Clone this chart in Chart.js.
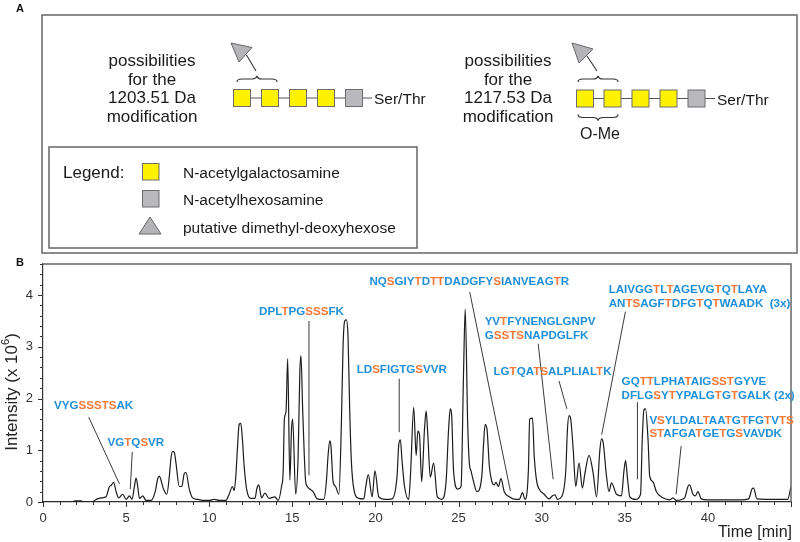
<!DOCTYPE html>
<html><head><meta charset="utf-8">
<script src="https://cdn.jsdelivr.net/npm/chart.js@4.4.1/dist/chart.umd.min.js"></script>
<style>
html,body{margin:0;padding:0;background:#fff;overflow:hidden;}
#wrap{position:relative;width:800px;height:542px;overflow:hidden;font-family:"Liberation Sans",Arial,Helvetica,sans-serif;color:#1a1a1a;}
#c{position:absolute;left:0;top:0;}
#panelA{position:absolute;left:0;top:0;}
.pep{position:absolute;font-weight:bold;font-size:11.6px;line-height:13.5px;white-space:pre;color:#1e8fd8;}
.pep b{color:#f47a3a;font-weight:bold;}
#ytitle{position:absolute;left:12px;top:392px;transform:translate(-50%,-50%) rotate(-90deg);font-size:17px;line-height:20px;white-space:nowrap;color:#222;}
#ytitle sup{font-size:11px;line-height:0;position:relative;top:-1px;}
#xtitle{position:absolute;right:8px;top:523px;font-size:16px;line-height:18px;white-space:nowrap;color:#222;}
</style></head>
<body><div id="wrap">
<canvas id="c" width="800" height="542"></canvas>
<svg id="panelA" width="800" height="542" xmlns="http://www.w3.org/2000/svg" style="font-family:'Liberation Sans',Arial,Helvetica,sans-serif">
  <text x="20" y="11.5" font-size="11" font-weight="bold" text-anchor="middle" fill="#111">A</text>
  <rect x="42" y="15" width="755" height="238" fill="none" stroke="#666" stroke-width="1.5"/>
  <g font-size="17" fill="#1a1a1a" text-anchor="middle">
    <text x="152" y="66">possibilities</text>
    <text x="152" y="84.5">for the</text>
    <text x="152" y="103">1203.51 Da</text>
    <text x="152" y="122">modification</text>
    <text x="508" y="66">possibilities</text>
    <text x="508" y="84.5">for the</text>
    <text x="508" y="103">1217.53 Da</text>
    <text x="508" y="122">modification</text>
  </g>
  <!-- left glycan -->
  <line x1="240" y1="98" x2="372" y2="98" stroke="#555" stroke-width="1.2"/>
  <g stroke="#6d6d6d" stroke-width="1">
    <rect x="233.5" y="89.5" width="17" height="17" fill="#fff200"/>
    <rect x="261.5" y="89.5" width="17" height="17" fill="#fff200"/>
    <rect x="289.5" y="89.5" width="17" height="17" fill="#fff200"/>
    <rect x="317.5" y="89.5" width="17" height="17" fill="#fff200"/>
    <rect x="345.5" y="89.5" width="17" height="17" fill="#b9b9bd"/>
  </g>
  <text x="374" y="104" font-size="15.5" fill="#1a1a1a">Ser/Thr</text>
  <polygon points="231,43 252,47.5 239,62" fill="#b5b5b9" stroke="#666" stroke-width="1"/>
  <line x1="246.5" y1="55" x2="256" y2="71" stroke="#333" stroke-width="1.1"/>
  <path d="M237,82 C237,79.5 238.5,79 242,79 L252,79 C255,79 256.5,78 257,76 C257.5,78 259,79 262,79 L272,79 C275.5,79 277,79.5 277,82" fill="none" stroke="#333" stroke-width="1.2"/>
  <!-- right glycan -->
  <line x1="580" y1="98.5" x2="715" y2="98.5" stroke="#555" stroke-width="1.2"/>
  <g stroke="#6d6d6d" stroke-width="1">
    <rect x="576.5" y="90" width="17" height="17" fill="#fff200"/>
    <rect x="604" y="90" width="17" height="17" fill="#fff200"/>
    <rect x="632" y="90" width="17" height="17" fill="#fff200"/>
    <rect x="660" y="90" width="17" height="17" fill="#fff200"/>
    <rect x="688" y="90" width="17" height="17" fill="#b9b9bd"/>
  </g>
  <text x="717" y="104.5" font-size="15.5" fill="#1a1a1a">Ser/Thr</text>
  <polygon points="572,43 593,49 579,63" fill="#b5b5b9" stroke="#666" stroke-width="1"/>
  <line x1="587" y1="56" x2="597" y2="71" stroke="#333" stroke-width="1.1"/>
  <path d="M578,82 C578,79.5 579.5,79 583,79 L593,79 C596,79 597.5,78 598,76 C598.5,78 600,79 603,79 L613,79 C616.5,79 618,79.5 618,82" fill="none" stroke="#333" stroke-width="1.2"/>
  <path d="M578,114.5 C578,117 579.5,117.5 583,117.5 L593,117.5 C596,117.5 597.5,118.5 598,120.5 C598.5,118.5 600,117.5 603,117.5 L613,117.5 C616.5,117.5 618,117 618,114.5" fill="none" stroke="#333" stroke-width="1.2"/>
  <text x="600" y="139" font-size="16" text-anchor="middle" fill="#1a1a1a">O-Me</text>
  <!-- legend -->
  <rect x="49" y="147" width="368" height="101" fill="none" stroke="#666" stroke-width="1.5"/>
  <text x="63" y="178" font-size="17" fill="#1a1a1a">Legend:</text>
  <rect x="142.5" y="163.5" width="16.5" height="16.5" fill="#fff200" stroke="#6d6d6d" stroke-width="1"/>
  <rect x="142.5" y="190.5" width="16.5" height="16.5" fill="#b9b9bd" stroke="#6d6d6d" stroke-width="1"/>
  <polygon points="139,234 161,234 150,217" fill="#b5b5b9" stroke="#666" stroke-width="1"/>
  <g font-size="15.5" fill="#1a1a1a">
    <text x="183" y="177.5">N-acetylgalactosamine</text>
    <text x="183" y="204.5">N-acetylhexosamine</text>
    <text x="183" y="232.5">putative dimethyl-deoxyhexose</text>
  </g>
  <text x="20" y="265.5" font-size="11" font-weight="bold" text-anchor="middle" fill="#111">B</text>
</svg>
<div id="ytitle">Intensity (x 10<sup>6</sup>)</div>
<div id="xtitle">Time [min]</div>
</div>
<script>
// ---- data: retention time [min] and intensity [x 10^6] ----
const times = [
  0,1.0,1.8,1.9,2.3,2.4,3.0,3.2,3.5,3.8,
  3.9,4.0,4.1,4.25,4.4,4.55,4.8,5.0,5.2,5.35,
  5.5,5.6,5.7,5.8,6.0,6.2,6.5,6.75,6.9,7.0,
  7.1,7.25,7.45,7.6,7.7,7.8,7.9,8.0,8.2,8.35,
  8.5,8.6,8.8,9.0,9.3,9.7,10.0,10.3,10.6,11.0,
  11.2,11.4,11.5,11.6,11.7,11.8,11.9,12.0,12.1,12.25,
  12.5,12.75,12.88,12.98,13.15,13.35,13.6,13.95,14.15,14.35,
  14.45,14.52,14.62,14.72,14.85,14.95,15.02,15.2,15.35,15.45,
  15.52,15.62,15.72,15.8,15.9,16.05,16.25,16.5,16.9,17.05,
  17.15,17.25,17.32,17.45,17.6,17.8,17.95,18.05,18.15,18.25,
  18.35,18.45,18.55,18.7,19.0,19.3,19.42,19.57,19.8,19.97,
  20.2,20.6,21.0,21.3,21.4,21.5,21.6,21.75,22.0,22.12,
  22.3,22.45,22.55,22.65,22.78,22.95,23.05,23.15,23.3,23.5,
  23.72,24.0,24.25,24.4,24.5,24.58,24.7,24.95,25.15,25.3,
  25.4,25.55,25.65,25.75,25.9,26.1,26.4,26.5,26.6,26.72,
  26.85,27.0,27.15,27.25,27.4,27.55,27.75,28.05,28.4,28.65,
  28.85,29.0,29.2,29.28,29.45,29.55,29.7,29.85,30.15,30.45,
  30.65,30.8,30.95,31.2,31.45,31.55,31.65,31.75,31.9,32.05,
  32.25,32.45,32.6,32.85,33.1,33.3,33.5,33.6,33.7,33.9,
  34.05,34.2,34.5,34.8,34.95,35.05,35.15,35.3,35.65,35.95,
  36.05,36.15,36.25,36.4,36.5,36.7,36.9,37.3,37.7,37.9,
  38.1,38.6,38.8,38.9,39.1,39.25,39.4,39.6,40.0,41.0,
  42.0,42.45,42.65,42.75,42.95,44.0,44.8,45.0];
const intensity = [
  0,0,0,0.02,0.02,0,0.01,0.05,0.08,0.1,
  0.2,0.3,0.32,0.38,0.2,0.08,0.15,0.05,0.12,0.05,
  0.3,0.46,0.3,0.07,0.12,0.03,0.03,0.2,0.45,0.5,
  0.42,0.25,0.15,0.5,0.85,0.98,0.96,0.75,0.3,0.3,
  0.55,0.57,0.25,0.08,0.05,0.03,0.03,0.05,0.03,0.03,
  0.15,0.3,0.22,0.5,1.05,1.5,1.52,1.2,0.7,0.25,
  0.07,0.07,0.28,0.33,0.08,0.17,0.07,0.1,0.03,0.3,
  0.6,1.6,1.75,2.77,0.42,1.4,1.6,0.15,0.9,2.5,
  2.83,1.8,0.9,0.4,0.3,0.25,0.2,0.06,0.05,0.4,
  0.9,1.18,1.1,0.4,0.3,0.15,1.5,3.0,3.5,3.52,
  3.2,1.8,0.8,0.25,0.07,0.06,0.3,0.53,0.1,0.6,
  0.1,0.05,0.06,0.5,1.1,1.2,0.8,0.3,0.05,0.6,
  1.83,0.9,1.37,1.3,0.39,1.4,1.76,1.3,0.48,0.75,
  0.1,0.05,0.4,1.4,1.8,1.7,0.6,0.25,0.3,2.5,
  3.73,1.5,0.75,0.6,0.4,0.2,0.5,1.1,1.5,1.38,
  0.7,0.4,0.33,0.38,0.3,0.45,0.2,0.1,0.05,0.05,
  0.18,0.05,0.6,1.6,1.62,0.9,0.4,0.25,0.15,0.06,
  0.12,0.14,0.05,0.1,0.6,1.4,1.67,1.6,1.0,0.3,
  0.75,0.27,0.55,0.9,0.55,0.1,1.0,1.22,1.15,0.5,
  0.2,0.37,0.15,0.12,0.6,0.8,0.5,0.1,0.05,0.15,
  1.2,1.78,1.8,1.2,0.5,0.39,0.2,0.08,0.04,0.08,
  0.03,0.08,0.3,0.33,0.15,0.12,0.2,0.06,0.04,0.04,
  0.04,0.06,0.25,0.27,0.06,0.05,0.05,0.3];
const xTickLabels = ['0','5','10','15','20','25','30','35','40'];
const yTickLabels = ['0','1','2','3','4'];
// peptide annotations ([...] = orange residues); anchor and callout in (time, intensity) units
const peptides = [
  {lines:['VYG[SSSTS]AK'], at:[0.66,1.88], callout:[[2.75,1.64],[4.6,0.35]]},
  {lines:['VG[T]Q[S]VR'], at:[3.88,1.16], callout:[[5.37,0.97],[5.25,0.25]]},
  {lines:['DPL[T]PG[SSS]FK'], at:[13.0,3.69], callout:[[16.0,3.5],[16.0,0.52]]},
  {lines:['LD[S]FIGTG[S]VVR'], at:[18.87,2.57], callout:[[21.43,2.38],[21.43,1.35]]},
  {lines:['NQ[S]GIY[T]D[TT]DADGFY[S]IANVEAG[T]R'], at:[19.64,4.27], callout:[[25.67,4.06],[28.12,0.21]]},
  {lines:['YV[T]FYNENGLGNPV','G[SSTS]NAPDGLFK'], at:[26.57,3.5], callout:[[29.79,3.06],[30.69,0.44]]},
  {lines:['LG[T]QA[TS]ALPLIAL[T]K'], at:[27.1,2.53], callout:[[31.04,2.34],[31.52,1.8]]},
  {lines:['LAIVGG[T]L[T]AGEVG[T]Q[T]LAYA','AN[TS]AGF[T]DFG[T]Q[T]WAADK  (3x)'], at:[34.03,4.12], callout:[[35.04,3.68],[33.61,1.3]]},
  {lines:['GQ[TT]LPHA[T]AIG[SST]GYVE','DFLG[S]Y[T]YPALG[T]G[T]GALK (2x)'], at:[34.81,2.34], callout:[[35.76,1.93],[35.76,0.44]]},
  {lines:['V[S]YLDAL[T]AA[T]G[T]FG[T]V[TS]','[ST]AFGA[T]GE[T]G[S]VAVDK'], at:[36.48,1.59], callout:[[38.39,1.08],[38.09,0.15]]}
];
const LINE_H = 13.5;

const wrap = document.getElementById('wrap');
const pepDivs = peptides.map(p => {
  const d = document.createElement('div');
  d.className = 'pep';
  d.innerHTML = p.lines.map(l => l.replace(/\[([^\]]+)\]/g, '<b>$1</b>')).join('\n');
  wrap.appendChild(d);
  return d;
});

const decor = {
  id: 'decor',
  afterDraw(chart) {
    const {ctx, chartArea: a, scales: {x, y}} = chart;
    ctx.save();
    ctx.strokeStyle = '#666'; ctx.lineWidth = 1.5;
    ctx.beginPath();
    ctx.moveTo(a.left - 1, a.top); ctx.lineTo(a.right, a.top); ctx.lineTo(a.right, a.bottom);
    ctx.stroke();
    ctx.strokeStyle = '#333'; ctx.lineWidth = 1;
    ctx.beginPath();
    for (let t = 0; t <= 45; t++) {
      const px = Math.round(x.getPixelForValue(t)) + 0.5;
      const len = t % 5 === 0 ? 5 : 3;
      ctx.moveTo(px, a.bottom); ctx.lineTo(px, a.bottom + len);
    }
    for (let k = 0; k <= 23; k++) {
      const py = Math.round(y.getPixelForValue(k * 0.2)) + 0.5;
      const len = k % 5 === 0 ? 5 : 3;
      ctx.moveTo(a.left - len, py); ctx.lineTo(a.left, py);
    }
    ctx.stroke();
    ctx.strokeStyle = '#3a3a3a'; ctx.lineWidth = 1;
    ctx.beginPath();
    peptides.forEach(p => {
      ctx.moveTo(x.getPixelForValue(p.callout[0][0]), y.getPixelForValue(p.callout[0][1]));
      ctx.lineTo(x.getPixelForValue(p.callout[1][0]), y.getPixelForValue(p.callout[1][1]));
    });
    ctx.stroke();
    ctx.restore();
    peptides.forEach((p, i) => {
      pepDivs[i].style.left = x.getPixelForValue(p.at[0]) + 'px';
      pepDivs[i].style.top = (y.getPixelForValue(p.at[1]) - LINE_H / 2) + 'px';
    });
  }
};

Chart.defaults.font.family = '"Liberation Sans", Arial, Helvetica, sans-serif';
new Chart(document.getElementById('c'), {
  type: 'line',
  data: {
    datasets: [{
      data: times.map((t, i) => ({x: t, y: intensity[i]})),
      borderColor: '#1c1c1c', borderWidth: 1.2, pointRadius: 0,
      cubicInterpolationMode: 'monotone', fill: false
    }]
  },
  options: {
    responsive: false, animation: false, devicePixelRatio: 1,
    layout: {padding: {top: 264, right: 3, left: 0, bottom: 0}},
    plugins: {legend: {display: false}, tooltip: {enabled: false}},
    scales: {
      x: {
        type: 'linear', min: 0, max: 45,
        afterFit: s => { s.height = 40; },
        ticks: {stepSize: 5, autoSkip: false, maxRotation: 0, padding: 9,
          font: {size: 13}, color: '#333',
          callback: v => xTickLabels.includes(String(v)) ? String(v) : ''},
        grid: {display: false, drawTicks: false},
        border: {display: true, color: '#333', width: 1.2}
      },
      y: {
        min: 0, max: 4.6,
        afterFit: s => { s.width = 43; },
        ticks: {stepSize: 1, autoSkip: false, padding: 10,
          font: {size: 13}, color: '#333',
          callback: v => yTickLabels.includes(String(v)) ? String(v) : ''},
        grid: {display: false, drawTicks: false},
        border: {display: true, color: '#333', width: 1.2}
      }
    }
  },
  plugins: [decor]
});
</script>
</body></html>
